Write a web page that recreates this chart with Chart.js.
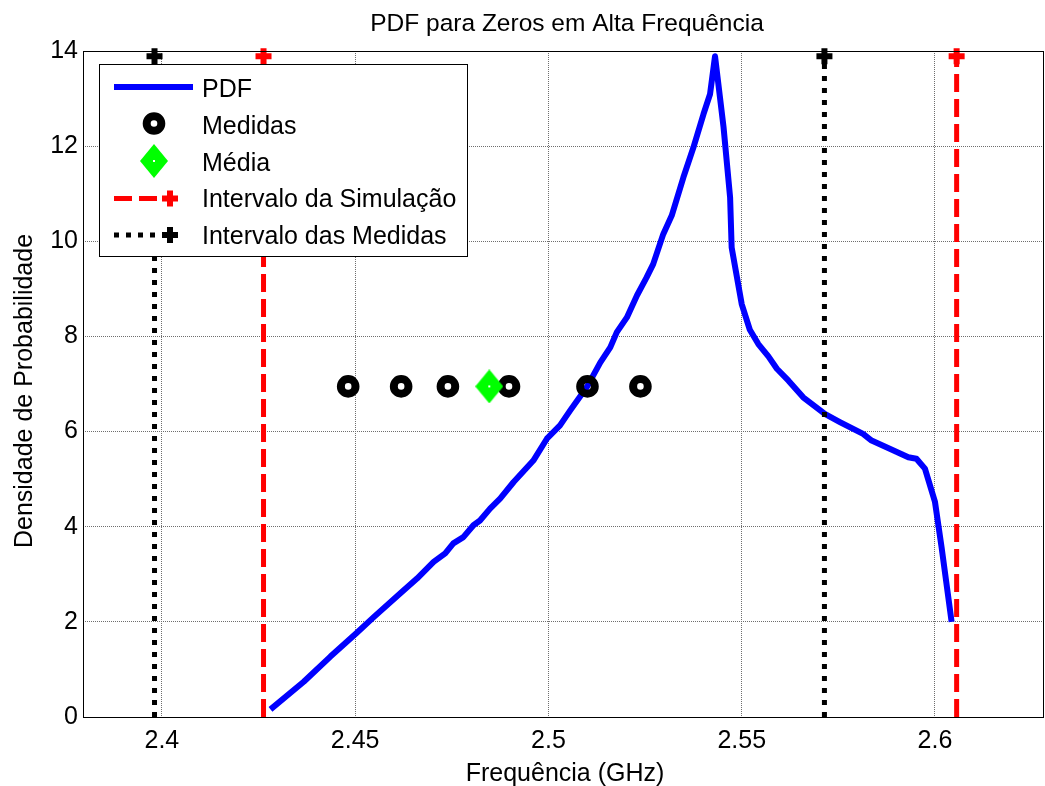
<!DOCTYPE html>
<html><head><meta charset="utf-8">
<script src="https://cdn.jsdelivr.net/npm/chart.js@4.4.0/dist/chart.umd.min.js"></script>
<style>html,body{margin:0;padding:0;background:#fff;overflow:hidden;}canvas{display:block;}</style>
</head><body><canvas id="c" width="1045" height="786"></canvas>
<script>
const titleText = 'PDF para Zeros em Alta Frequência';
const xLabel = 'Frequência (GHz)';
const yLabel = 'Densidade de Probabilidade';
const legendLabels = ['PDF', 'Medidas', 'Média', 'Intervalo da Simulação', 'Intervalo das Medidas'];
const xTickValues = [2.4, 2.45, 2.5, 2.55, 2.6];
const xTickLabels = ['2.4', '2.45', '2.5', '2.55', '2.6'];
const yTickValues = [0, 2, 4, 6, 8, 10, 12, 14];
const yTickLabels = ['0', '2', '4', '6', '8', '10', '12', '14'];
const xMin = 2.3796, xMax = 2.6282, yMin = 0, yMax = 14;

const pdfX = [2.4281, 2.4367, 2.4436, 2.4503, 2.4548, 2.4617, 2.4660, 2.4703, 2.4733, 2.4754, 2.4780, 2.4806, 2.4823, 2.4849, 2.4875, 2.4910, 2.4961, 2.4996, 2.5030, 2.5056, 2.5099, 2.5134, 2.5160, 2.5177, 2.5203, 2.5229, 2.5254, 2.5271, 2.5297, 2.5319, 2.5349, 2.5375, 2.5401, 2.5418, 2.5431, 2.5453, 2.5470, 2.5474, 2.5500, 2.5521, 2.5543, 2.5569, 2.5591, 2.5621, 2.5659, 2.5715, 2.5754, 2.5814, 2.5836, 2.5883, 2.5931, 2.5952, 2.5974, 2.6000, 2.6017, 2.6043];
const pdfY = [0.16, 0.74, 1.27, 1.76, 2.10, 2.60, 2.91, 3.26, 3.44, 3.65, 3.78, 4.03, 4.13, 4.38, 4.59, 4.94, 5.39, 5.85, 6.13, 6.44, 6.93, 7.45, 7.77, 8.09, 8.40, 8.86, 9.24, 9.52, 10.15, 10.54, 11.34, 11.97, 12.67, 13.09, 13.89, 12.40, 10.92, 9.87, 8.68, 8.14, 7.84, 7.58, 7.32, 7.07, 6.72, 6.37, 6.20, 5.95, 5.81, 5.64, 5.46, 5.43, 5.22, 4.52, 3.57, 2.00];
const medidasX = [2.4482, 2.4619, 2.4740, 2.4898, 2.5101, 2.5238];
const medidasY = [6.95, 6.95, 6.95, 6.95, 6.95, 6.95];
const mediaX = [2.4847];
const mediaY = [6.95];
const simIntervalX = [2.4263, 2.6056];
const medIntervalX = [2.3981, 2.5714];
const intervalY = [0, 13.89];

const FONT = "'Liberation Sans', Arial, Helvetica, sans-serif";
const BLUE = '#0000ff', RED = '#ff0000', GREEN = '#00ff00';
const RED_DASH = [18, 7], BLACK_DOT = [5, 7];

function makeDiamond() {
  const c = document.createElement('canvas');
  c.width = 28; c.height = 34;
  const g = c.getContext('2d');
  g.fillStyle = GREEN;
  g.beginPath(); g.moveTo(14, 0); g.lineTo(28, 17); g.lineTo(14, 34); g.lineTo(0, 17); g.closePath(); g.fill();
  g.fillStyle = '#ffffff';
  g.fillRect(13, 16, 2, 2);
  return c;
}
const diamond = makeDiamond();

function vline(xv, color, dash) {
  return {
    data: intervalY.map(y => ({ x: xv, y: y })),
    borderColor: color, backgroundColor: color, borderWidth: 5, borderDash: dash, borderCapStyle: 'butt',
    pointStyle: 'cross', pointRadius: [0, 8], pointBorderWidth: 6, pointBorderColor: color,
    showLine: true, clip: false, tension: 0
  };
}

const datasets = [];
medIntervalX.forEach(v => datasets.push(vline(v, '#000000', BLACK_DOT)));
simIntervalX.forEach(v => datasets.push(vline(v, RED, RED_DASH)));
datasets.push({
  data: mediaX.map((x, i) => ({ x: x, y: mediaY[i] })),
  pointStyle: diamond, pointRadius: 14, showLine: false, clip: false
});
datasets.push({
  data: medidasX.map((x, i) => ({ x: x, y: medidasY[i] })),
  pointStyle: 'circle', pointRadius: 7.3, pointBorderWidth: 8, pointBorderColor: '#000',
  pointBackgroundColor: 'rgba(0,0,0,0)', showLine: false, clip: false
});
datasets.push({
  data: pdfX.map((x, i) => ({ x: x, y: pdfY[i] })),
  borderColor: BLUE, borderWidth: 6, pointRadius: 0, showLine: true, tension: 0,
  borderJoinStyle: 'round', borderCapStyle: 'butt', clip: false
});

const decor = {
  id: 'decor',
  afterDraw(chart) {
    const ctx = chart.ctx, a = chart.chartArea;
    ctx.save();
    ctx.strokeStyle = '#000'; ctx.lineWidth = 1; ctx.setLineDash([]);
    ctx.strokeRect(Math.round(a.left) + 0.5, Math.round(a.top) + 0.5, Math.round(a.right - a.left) - 1, Math.round(a.bottom - a.top));
    ctx.fillStyle = '#000'; ctx.textBaseline = 'alphabetic';
    ctx.font = '24.5px ' + FONT; ctx.textAlign = 'center';
    ctx.fillText(titleText, 567, 30.5);
    ctx.font = '25px ' + FONT;
    ctx.fillText(xLabel, 565, 781);
    ctx.save(); ctx.translate(31.5, 391); ctx.rotate(-Math.PI / 2); ctx.fillText(yLabel, 0, 0); ctx.restore();
    // legend
    ctx.fillStyle = '#fff'; ctx.fillRect(99.5, 64.5, 368, 192);
    ctx.strokeStyle = '#000'; ctx.lineWidth = 1; ctx.strokeRect(99.5, 64.5, 368, 192);
    const tx = 202, base = [96.7, 134, 170.7, 207.3, 244];
    ctx.strokeStyle = BLUE; ctx.lineWidth = 6; ctx.beginPath(); ctx.moveTo(114, 87); ctx.lineTo(193, 87); ctx.stroke();
    ctx.strokeStyle = '#000'; ctx.lineWidth = 8; ctx.beginPath(); ctx.arc(154, 123.5, 7.3, 0, Math.PI * 2); ctx.stroke();
    ctx.drawImage(diamond, 154 - 14, 161 - 17);
    const rows = [[RED, RED_DASH, 198.5], ['#000', BLACK_DOT, 235]];
    rows.forEach(r => {
      ctx.strokeStyle = r[0]; ctx.lineWidth = 5; ctx.setLineDash(r[1]); ctx.lineCap = 'butt';
      ctx.beginPath(); ctx.moveTo(114, r[2]); ctx.lineTo(164, r[2]); ctx.stroke();
      ctx.setLineDash([]); ctx.lineWidth = 6;
      ctx.beginPath(); ctx.moveTo(162, r[2]); ctx.lineTo(178, r[2]); ctx.moveTo(170, r[2] - 8); ctx.lineTo(170, r[2] + 8); ctx.stroke();
    });
    ctx.fillStyle = '#000'; ctx.font = '25px ' + FONT; ctx.textAlign = 'left';
    legendLabels.forEach((t, i) => ctx.fillText(t, tx, base[i]));
    ctx.restore();
  }
};

new Chart(document.getElementById('c'), {
  type: 'scatter',
  data: { datasets: datasets },
  options: {
    responsive: false, animation: false, events: [], devicePixelRatio: 1,
    layout: { autoPadding: false, padding: { top: 51, right: 1, left: 0, bottom: 0 } },
    plugins: { legend: { display: false }, title: { display: false }, tooltip: { enabled: false } },
    scales: {
      x: {
        type: 'linear', min: xMin, max: xMax,
        afterBuildTicks: s => { s.ticks = xTickValues.map(v => ({ value: v })); },
        afterFit: s => { s.height = 69; s.paddingLeft = 0; s.paddingRight = 0; },
        ticks: { callback: (v, i) => xTickLabels[i], font: { family: FONT, size: 25 }, color: '#000', padding: 9, maxRotation: 0, autoSkip: false },
        grid: { color: '#6e6e6e', lineWidth: 1, drawTicks: false, borderDash: [1, 1] },
        border: { display: false, dash: [1, 1] }
      },
      y: {
        type: 'linear', min: yMin, max: yMax,
        afterBuildTicks: s => { s.ticks = yTickValues.map(v => ({ value: v })); },
        afterFit: s => { s.width = 83; s.paddingTop = 0; s.paddingBottom = 0; },
        ticks: { callback: (v, i) => yTickLabels[i], font: { family: FONT, size: 25 }, color: '#000', padding: 5, autoSkip: false },
        grid: { color: '#6e6e6e', lineWidth: 1, drawTicks: false, borderDash: [1, 1] },
        border: { display: false, dash: [1, 1] }
      }
    }
  },
  plugins: [decor]
});
</script></body></html>
